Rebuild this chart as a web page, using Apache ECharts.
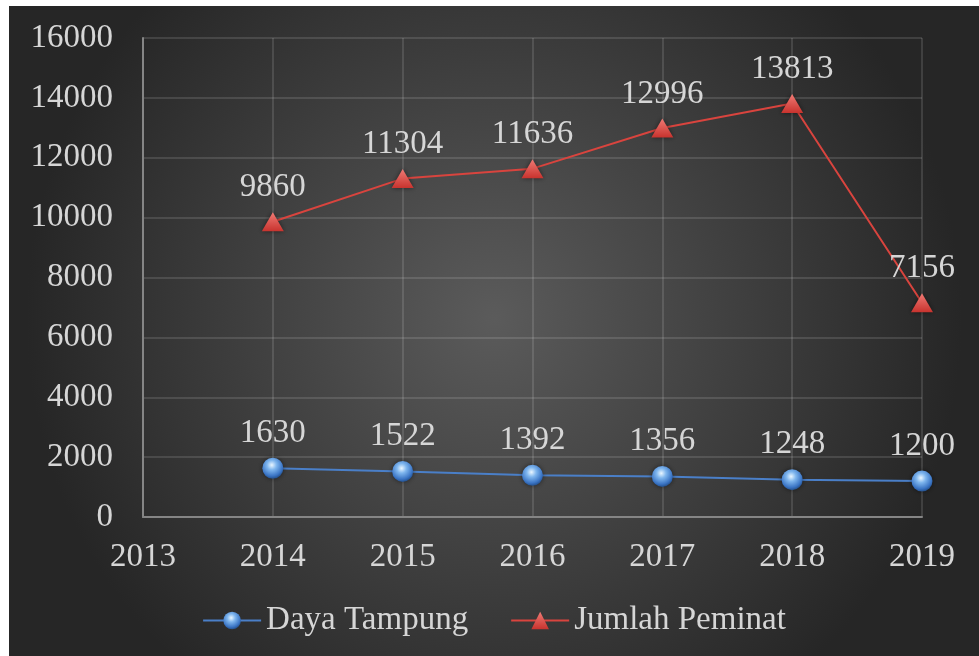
<!DOCTYPE html>
<html>
<head>
<meta charset="utf-8">
<script src="https://cdn.jsdelivr.net/npm/echarts@6/dist/echarts.min.js"></script>
<style>
  html, body { margin: 0; padding: 0; background: #fff; }
  #chart { position: absolute; left: 9px; top: 6px; width: 970px; height: 650px; }
</style>
</head>
<body>
<div id="chart"></div>
<script>
// data
var years = ['2013', '2014', '2015', '2016', '2017', '2018', '2019']
var dayaTampung = [null, 1630, 1522, 1392, 1356, 1248, 1200]
var jumlahPeminat = [null, 9860, 11304, 11636, 12996, 13813, 7156]

var textColor = '#d6d6d6'
var fontName = 'Liberation Serif'

var myChart = echarts.init(document.getElementById('chart'))

var option = {
  backgroundColor: {
    type: 'radial', x: 0.5, y: 0.48, r: 0.72,
    colorStops: [
      { offset: 0, color: '#5b5b5b' },
      { offset: 1, color: '#262626' }
    ]
  },
  textStyle: { fontFamily: fontName },
  grid: { left: 134, right: 57, top: 32, bottom: 139 },
  legend: {
    bottom: 14,
    itemWidth: 58,
    itemHeight: 22,
    itemGap: 42,
    textStyle: { color: textColor, fontSize: 33, fontFamily: fontName },
    data: ['Daya Tampung', 'Jumlah Peminat']
  },
  xAxis: {
    type: 'category',
    data: years,
    boundaryGap: false,
    axisLine: { lineStyle: { color: '#858585', width: 2 } },
    axisTick: { show: false },
    axisLabel: { color: textColor, fontSize: 33, margin: 24, fontFamily: fontName },
    splitLine: { show: true, lineStyle: { color: 'rgba(255,255,255,0.12)', width: 2 } }
  },
  yAxis: {
    type: 'value',
    min: 0,
    max: 16000,
    interval: 2000,
    axisLine: { show: true, lineStyle: { color: '#858585', width: 2 } },
    axisTick: { show: false },
    axisLabel: {
      color: textColor, fontSize: 33, margin: 30, fontFamily: fontName,
      formatter: function (v) { return String(v) }
    },
    splitLine: { lineStyle: { color: 'rgba(255,255,255,0.12)', width: 2 } }
  },
  series: [
    {
      name: 'Daya Tampung',
      type: 'line',
      data: dayaTampung,
      symbol: 'circle',
      symbolSize: 21,
      lineStyle: { color: '#4a7fc8', width: 2 },
      itemStyle: {
        color: {
          type: 'radial', x: 0.45, y: 0.35, r: 0.65,
          colorStops: [
            { offset: 0, color: '#eaf6ff' },
            { offset: 0.35, color: '#7fb6ee' },
            { offset: 0.8, color: '#3a74c4' },
            { offset: 1, color: '#24508c' }
          ]
        },
        shadowColor: 'rgba(0,0,0,0.5)',
        shadowBlur: 5
      },
      label: {
        show: true,
        position: 'top',
        distance: 8,
        color: textColor,
        fontSize: 33,
        fontFamily: fontName
      }
    },
    {
      name: 'Jumlah Peminat',
      type: 'line',
      data: jumlahPeminat,
      symbol: 'triangle',
      symbolSize: [22, 19],
      lineStyle: { color: '#d9443e', width: 2 },
      itemStyle: {
        color: {
          type: 'linear', x: 0, y: 0, x2: 0, y2: 1,
          colorStops: [
            { offset: 0, color: '#f07a74' },
            { offset: 1, color: '#c8332e' }
          ]
        },
        shadowColor: 'rgba(0,0,0,0.5)',
        shadowBlur: 5
      },
      label: {
        show: true,
        position: 'top',
        distance: 8,
        color: textColor,
        fontSize: 33,
        fontFamily: fontName
      }
    }
  ]
}

myChart.setOption(option)
</script>
</body>
</html>
